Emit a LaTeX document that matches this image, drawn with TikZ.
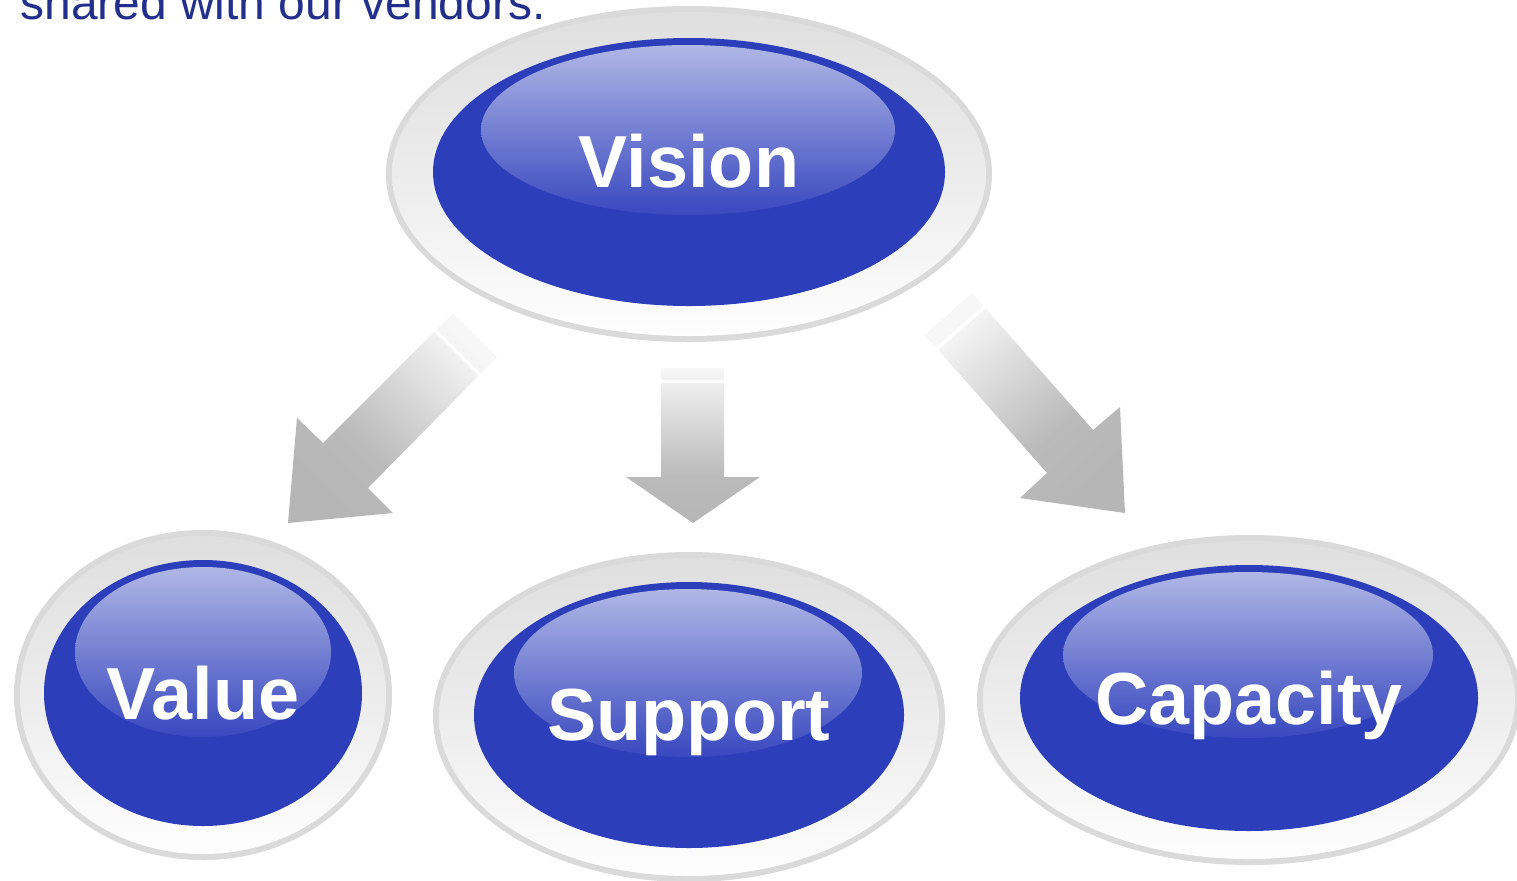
\documentclass[tikz,border=0pt]{standalone}
\usepackage{fontspec}
\setmainfont{Liberation Sans}
\definecolor{btnblue}{RGB}{44,62,185}
\definecolor{hitop}{RGB}{176,183,230}
\definecolor{hibot}{RGB}{56,72,191}
\definecolor{ringgray}{RGB}{218,218,218}
\definecolor{ringtop}{RGB}{223,223,223}
\definecolor{ringmid}{RGB}{236,236,236}
\definecolor{ringbot}{RGB}{254,254,254}
\definecolor{arrgray}{RGB}{182,182,182}
\definecolor{arrmid}{RGB}{186,186,186}
\definecolor{arrlight}{RGB}{247,247,247}
\definecolor{textblue}{RGB}{35,47,140}
\pgfdeclareverticalshading{arrfade}{100bp}{color(0bp)=(arrgray); color(25bp)=(arrgray); color(40bp)=(arrmid); color(75bp)=(arrlight); color(100bp)=(arrlight)}
\newcommand{\glossbtn}[9]{%
  \fill[ringgray] #1 ellipse [x radius=#2, y radius=#3];
  \shade[top color=ringtop, bottom color=ringbot, middle color=ringmid] #1 ellipse [x radius=#2-6, y radius=#3-6];
  \fill[btnblue] #4 ellipse [x radius=#5, y radius=#6];
  \shade[top color=hitop, bottom color=hibot] #7 ellipse [x radius=#8, y radius=#9];
}
\tikzset{
  lbl/.style={text=white, font=\fontsize{42pt}{42pt}\selectfont\bfseries, inner sep=0pt, anchor=base},
  blockarrow/.style={shading=arrfade, draw=none},
  gapline/.style={white, line width=2pt}
}
\begin{document}
\begin{tikzpicture}[x=0.02cm, y=-0.02cm]
\useasboundingbox (0,0) rectangle (1517,880);
\clip (0,0) rectangle (1517,880);
\fill[white] (0,0) rectangle (1517,880);

% caption
\node[anchor=base west, text=textblue, font=\fontsize{27.3pt}{30pt}\selectfont, inner sep=0pt] (caption) at (20,19) {shared with our vendors.};

% buttons
\glossbtn{(689,174)}{303}{168}{(689,172)}{256}{134}{(688,130)}{207}{85}
\glossbtn{(203,695)}{189}{165}{(203,693)}{159}{133}{(203,652)}{128}{85}
\glossbtn{(689,717)}{256}{165}{(689,715)}{215}{133}{(688,673)}{174}{84}
\glossbtn{(1249,700)}{272}{165}{(1249,698)}{229}{133}{(1248,655)}{185}{83}

\node[lbl] (vision) at (689,187) {Vision};
\node[lbl] (value) at (203,719) {Value};
\node[lbl] (support) at (689,740) {Support};
\node[lbl] (capacity) at (1249,724) {Capacity};

% block arrows
\shade[blockarrow, shading angle=-45] (453,313) -- (497,357) -- (368,488) -- (393,513) -- (288,523) -- (297,418) -- (323,443) -- cycle;
\draw[gapline] (434,329) -- (484,379);

\shade[blockarrow] (661,368) -- (724,368) -- (724,477) -- (760,477) -- (693,523) -- (626,477) -- (661,477) -- cycle;
\draw[gapline] (655,381.5) -- (730,381.5);

\shade[blockarrow, shading angle=41.5] (925,335) -- (972,293) -- (1093,430) -- (1120,407) -- (1125,513) -- (1020,498) -- (1047,473) -- cycle;
\draw[gapline] (932,353) -- (989,303);
\end{tikzpicture}
\end{document}
